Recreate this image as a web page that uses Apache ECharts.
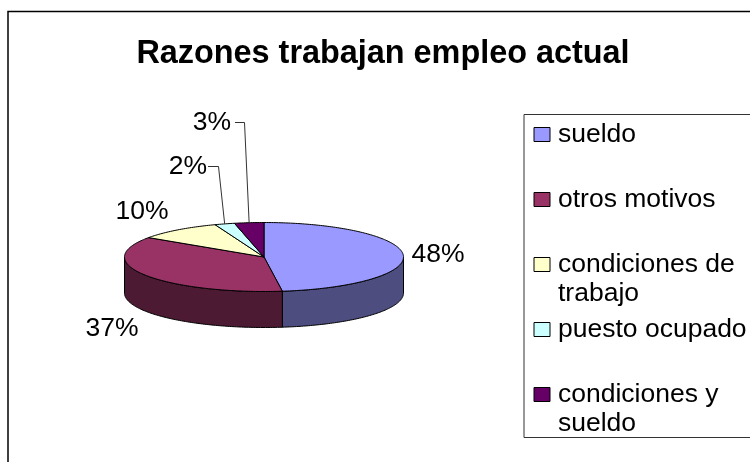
<!DOCTYPE html>
<html><head><meta charset="utf-8">
<style>html,body{margin:0;padding:0;background:#fff}#c{width:750px;height:462px}</style>
<script src="https://cdn.jsdelivr.net/npm/echarts@6/dist/echarts.min.js"></script>
</head><body><div id="c"></div>
<script>
var titleText = 'Razones trabajan empleo actual';
var categories = ['sueldo', 'otros motivos', 'condiciones de\ntrabajo', 'puesto ocupado', 'condiciones y\nsueldo'];
var values = [47.9, 36.6, 9.8, 2.3, 3.4];
var topColors = ['#9999FF', '#993366', '#FFFFCC', '#CCFFFF', '#660066'];
var wallColors = ['#4D4D80', '#4D1A33', '#808066', '#668080', '#330033'];

var FONT = '"Liberation Sans", Arial, sans-serif';
var pie = {cx: 264, cy: 257, rx: 139.5, ry: 34.5, depth: 36};
var labelSpots = [
  {x: 438, y: 255}, {x: 112, y: 329}, {x: 142, y: 212},
  {x: 188, y: 167, elbow: [[208, 166.5], [218.5, 166.5]]},
  {x: 212, y: 123, elbow: [[235, 122.5], [244.5, 122.5]]}
];
var legendTops = [120, 185, 221, 315, 351];

var total = values.reduce(function (a, b) { return a + b; }, 0);
function rim(deg, dy) {
  var r = deg * Math.PI / 180;
  return [pie.cx + pie.rx * Math.sin(r), pie.cy - pie.ry * Math.cos(r) + (dy || 0)];
}
function arc(a, b, dy) {
  var pts = [], n = Math.max(2, Math.ceil(Math.abs(b - a)));
  for (var k = 0; k <= n; k++) pts.push(rim(a + (b - a) * k / n, dy));
  return pts;
}
var seriesList = categories.map(function (name, i) {
  var before = values.slice(0, i).reduce(function (a, b) { return a + b; }, 0);
  return {
    type: 'custom', name: name, coordinateSystem: 'none', silent: true, animation: false,
    itemStyle: {color: topColors[i]},
    data: [values[i]],
    renderItem: function (params, api) {
      var a0 = before / total * 360, a1 = a0 + api.value(0) / total * 360;
      var kids = [];
      var w0 = Math.max(a0, 90), w1 = Math.min(a1, 270);
      if (w1 > w0) {
        kids.push({type: 'polygon', shape: {points: arc(w0, w1, 0).concat(arc(w1, w0, pie.depth))},
          style: {fill: wallColors[i], stroke: '#000', lineWidth: 1}});
      }
      kids.push({type: 'polygon', shape: {points: [[pie.cx, pie.cy]].concat(arc(a0, a1, 0))},
        style: {fill: topColors[i], stroke: '#000', lineWidth: 1}});
      var spot = labelSpots[i];
      if (spot.elbow) {
        kids.push({type: 'polyline', shape: {points: spot.elbow.concat([rim((a0 + a1) / 2, 0)])},
          style: {stroke: '#333', fill: null, lineWidth: 1}});
      }
      kids.push({type: 'text', style: {x: spot.x, y: spot.y, text: Math.round(api.value(0) / total * 100) + '%',
        font: '26.5px ' + FONT, fill: '#000', align: 'center', verticalAlign: 'middle'}});
      return {type: 'group', children: kids};
    }
  };
});
var legends = categories.map(function (name, i) {
  return {
    show: true, data: [name], left: 533.5, top: legendTops[i], padding: 0,
    icon: 'rect', itemWidth: 16, itemHeight: 14, itemGap: 0, selectedMode: false,
    itemStyle: {borderColor: '#000', borderWidth: 1},
    formatter: function (n) { return n.indexOf('\n') >= 0 ? '\n' + n : n; },
    textStyle: {fontFamily: FONT, fontSize: 26.5, color: '#000', lineHeight: 29, padding: [0, 0, 0, 3]}
  };
});
var chart = echarts.init(document.getElementById('c'));
chart.setOption({
  animation: false,
  backgroundColor: '#fff',
  title: {text: titleText, left: 378, top: 33, textAlign: 'center',
    textStyle: {fontFamily: FONT, fontSize: 32.4, fontWeight: 'bold', color: '#000'}},
  legend: legends,
  graphic: [
    {type: 'polyline', shape: {points: [[8, 462], [8, 11.5], [750, 11.5]]}, style: {stroke: '#000', fill: null, lineWidth: 1.5}, z: -1},
    {type: 'polyline', shape: {points: [[750, 114.5], [524, 114.5], [524, 437.5], [750, 437.5]]}, style: {stroke: '#333', fill: null, lineWidth: 1}, z: -1}
  ],
  series: seriesList
});
</script></body></html>
